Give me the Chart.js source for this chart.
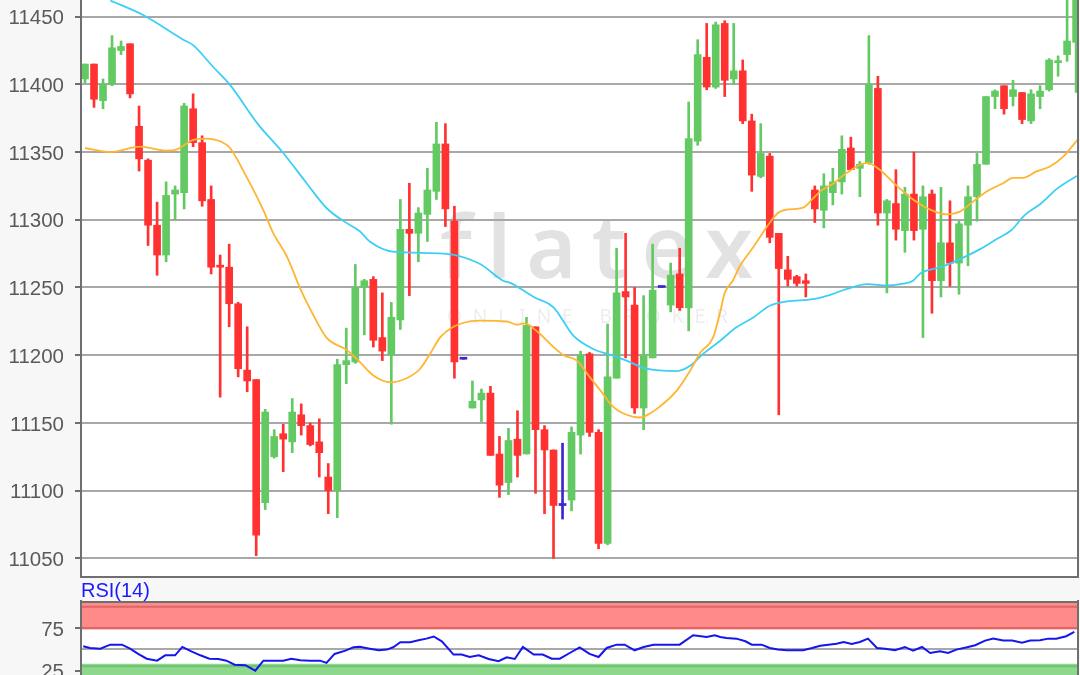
<!DOCTYPE html>
<html><head><meta charset="utf-8">
<script src="https://cdn.jsdelivr.net/npm/chart.js@4.4.1/dist/chart.umd.min.js"></script>
<style>
html,body{margin:0;padding:0;background:#f7f7f7;width:1080px;height:675px;overflow:hidden;}
#main{position:absolute;left:0;top:0;}
#rsi{position:absolute;left:0;top:578px;}
</style></head><body>
<canvas id="main" width="1080" height="579"></canvas>
<canvas id="rsi" width="1080" height="122"></canvas>
<script>
// ---------- data ----------
const opens = [11404,11415,11388,11400,11425,11430,11369,11344,11296,11274,
11319,11320,11382,11357,11315,11266,11265,11238,11189,11182,
11091,11125,11142,11136,11156,11148,11136,11110,11100,11193,
11195,11250,11256,11213,11200,11226,11293,11290,11304,11321,
11356,11299,11197,11161,11167,11172,11127,11106,11138,11127,
11221,11145,11130,11089,11093,11141,11201,11143,11061,11183,
11247,11237,11161,11198,11250,11237,11260,11235,11358,11420,
11398,11445,11404,11410,11373,11332,11347,11290,11263,11258,
11255,11322,11307,11320,11328,11353,11338,11342,11397,11305,
11312,11292,11319,11293,11319,11255,11283,11268,11296,11317,
11341,11391,11399,11391,11394,11373,11391,11396,11416,11422,11431];
const highs = [11415,11415,11404,11436,11432,11430,11384,11345,11313,11328,
11325,11386,11393,11362,11325,11274,11282,11239,11221,11182,
11160,11145,11149,11168,11164,11150,11153,11120,11197,11220,
11267,11256,11258,11246,11239,11315,11327,11309,11338,11372,
11371,11310,11197,11181,11175,11177,11140,11146,11159,11228,
11221,11148,11130,11135,11147,11203,11202,11145,11223,11279,
11290,11250,11244,11282,11250,11268,11279,11387,11433,11445,
11446,11447,11445,11418,11378,11371,11349,11290,11273,11259,
11260,11325,11334,11338,11362,11361,11343,11436,11406,11315,
11337,11324,11350,11325,11322,11324,11314,11299,11325,11349,
11391,11396,11399,11403,11394,11396,11399,11419,11421,11465,11475];
const lows = [11401,11383,11382,11399,11422,11390,11336,11281,11259,11269,
11300,11308,11354,11310,11260,11169,11221,11184,11173,11052,
11086,11124,11114,11128,11141,11133,11110,11083,11080,11179,
11194,11215,11206,11196,11149,11219,11244,11269,11284,11315,
11295,11183,11197,11161,11151,11126,11095,11097,11110,11127,
11098,11083,11050,11079,11085,11127,11140,11057,11060,11183,
11198,11157,11145,11198,11250,11232,11233,11218,11355,11396,
11397,11391,11400,11371,11321,11331,11283,11156,11251,11251,
11243,11298,11294,11311,11319,11337,11317,11341,11296,11246,
11285,11276,11285,11213,11231,11243,11251,11245,11266,11299,
11341,11382,11378,11384,11371,11371,11382,11395,11406,11417,11394];
const closes = [11415,11389,11400,11427,11428,11393,11345,11296,11274,11318,
11322,11384,11357,11314,11265,11265,11238,11190,11181,11067,
11158,11140,11138,11158,11148,11134,11128,11100,11193,11196,
11250,11255,11211,11203,11228,11293,11290,11305,11322,11356,
11308,11195,11197,11166,11172,11126,11104,11137,11126,11222,
11145,11130,11089,11089,11143,11200,11143,11061,11184,11246,
11243,11161,11200,11248,11250,11259,11235,11360,11422,11398,
11444,11403,11410,11373,11333,11349,11287,11264,11256,11253,
11253,11308,11325,11328,11352,11337,11341,11400,11305,11314,
11293,11319,11292,11317,11255,11283,11268,11297,11317,11341,
11391,11395,11382,11396,11374,11393,11395,11418,11417,11432,11470];

// fast moving average (orange): candle position, value
const maFastPos = [0,2.8,6.1,9.1,10.2,12,13.5,15,16.1,17.9,19.8,20.9,22.4,23.9,25,26.8,29,30.5,32,33.9,
35.7,37.2,38.3,39.4,40.9,42.7,43.8,46.8,47.9,48.8,50.1,52,53.1,54.6,56,57.2,58.6,60.1,61.6,62.7,
63.8,65.7,67.2,68.3,69.7,70.5,71,71.9,72.7,74.2,75.7,76.9,77.9,79.7,80.7,81.6,83.1,84.5,86.8,88.2,
90.1,91.9,93.8,95.6,97.1,98.6,100.1,101.9,103,104.1,105.6,107.1,108.6,109.9,110.3];
const maFast = [11353,11350,11354,11351,11352,11359,11360,11358,11353,11332,11307,11290,11273,11249,11234,11213,11204,11195,11185,11180,
11183,11190,11201,11213,11221,11225,11225.5,11225,11222.5,11223.5,11218,11206,11200,11196,11184,11174,11162,11156,11154,11157,
11162,11174,11189,11202,11213,11232,11246,11255,11266,11280,11295,11305,11307.5,11309,11315,11321,11327,11334.5,11342,11337,
11325,11315,11307.5,11304,11306,11313.6,11321,11327,11331,11331,11335.7,11339.4,11346.8,11357,11360];

// slow moving average (cyan)
const maSlowPos = [2.8,6.5,10.9,12,14.2,16.1,19.1,22,24.6,26.8,28.7,30.5,31.6,34.2,39.8,43.8,46.4,47.2,49.8,52,
54.2,56.4,58.6,60.1,62.3,65.7,67.2,68.6,70.5,72.3,74.2,76,77.9,80.8,82.7,84.5,86.8,89,90.5,91.9,
92.7,95.1,97.3,99.5,101.3,102.8,104.3,106.1,107.9,109.9,110.3];
const maSlow = [11462,11451,11433,11429,11413,11399.6,11371.4,11349.3,11327,11308.7,11299,11291.5,11284,11276.5,11275,11267.5,11255,11253.4,11243,11235.3,
11214.4,11204.6,11199.7,11196,11190,11188.2,11192.3,11201,11210.7,11220.6,11228,11236.5,11239.7,11241.4,11244.6,11248.8,11252.5,11251.5,11252.5,11255,
11260.4,11265.3,11271.5,11278.9,11286.2,11292.3,11303.4,11312,11323,11331.6,11333];

// RSI(14)
const rsiPos = [-0.2,0.55,1.7,2.8,4.1,5,5.9,6.85,8,8.9,10,10.8,11.8,12.8,13.8,14.8,15.7,16.6,17.8,18.9,
19.8,20.9,22,22.9,23.9,25,26.1,26.8,27.7,28.9,29.8,30.5,31.6,32.6,33.5,34.2,35,36.1,37,37.9,
38.7,39.6,40.2,40.9,41.8,42.7,43.7,44.8,45.9,46.8,47.7,48.6,49.8,50.8,51.8,52.7,53.8,54.9,56,57,
57.9,59,59.9,61,62,63.1,64,65,66,67.5,69,69.9,70.5,71.2,72.3,73.3,74,75.1,76,76.9,
77.9,78.8,79.7,80.7,81.6,82.5,83.4,84.2,85.1,86,86.9,87.9,88.8,89.9,91,91.9,92.9,93.8,94.9,95.8,
96.7,97.9,98.8,99.9,100.8,101.9,102.9,104,104.9,106,106.9,107.8,108.9,109.8];
const rsiValues = [53.5,51.5,50.7,55.4,55.4,50.7,44.5,38.9,36.6,42.9,42.9,52.7,47.6,42.9,38.9,38.6,36.6,31.9,31.2,24.8,
36.6,36.6,36.6,38.9,37,36.6,36.6,33.9,44.5,48.4,52.3,52.8,50.7,48.8,49.6,52.3,58.2,58.2,60.6,62.5,
65,59.4,52.3,43.7,43.7,40.9,42.9,38.6,35.9,40.5,38.6,52.7,43.7,43.7,38.9,38.9,45.6,52.3,44.5,40.9,
51.5,55.4,55.4,48.8,52.7,55.4,55.4,55.4,55.4,66.5,64.5,66.5,64.5,63.3,62.5,59.4,55.4,55.4,51.5,49.6,
48.8,48.8,48.8,51.5,54.2,55.4,56.6,58.6,56.2,58.6,62.5,51.5,50.7,48.8,52.7,48.4,52.7,45.6,47.6,45.6,
49.6,52.3,54.7,60.2,62.5,60.2,60.2,57.8,60.2,60.6,62.5,62.5,65.3,70.4];

const priceTicks = [11050,11100,11150,11200,11250,11300,11350,11400,11450];
const rsiTicks = [25,50,75];
const rsiOverbought = 75, rsiTop = 100, rsiOversold = 30;

// ---------- styling ----------
const GREEN = '#63c963', RED = '#ff3131', BLUE = '#3b26d4';
const FONT = "'Liberation Sans', Arial, sans-serif";
const X_MIN = -0.444, X_MAX = 110.21;

const candleColors = opens.map((o,i)=> closes[i] > o ? GREEN : (closes[i] < o ? RED : BLUE));
const bodies = opens.map((o,i)=>({x:i, y:[o, closes[i]]}));
const wicks = opens.map((o,i)=>({x:i, y:[lows[i], highs[i]]}));
const fastLine = maFastPos.map((x,k)=>({x, y:maFast[k]}));
const slowLine = maSlowPos.map((x,k)=>({x, y:maSlow[k]}));
const rsiLine = rsiPos.map((x,k)=>({x, y:rsiValues[k]}));

const fitY = (scale)=>{ scale.width = 81; scale.paddingTop = 0; scale.paddingBottom = 0; };

const areaPlugin = {
  id:'areaPlugin',
  beforeDraw(chart, args, opts){
    const {ctx, chartArea:a} = chart;
    ctx.save();
    ctx.fillStyle = '#ffffff';
    ctx.fillRect(a.left, a.top, a.right-a.left, a.bottom-a.top);
    if (opts.watermark){
      ctx.fillStyle = 'rgba(0,0,0,0.115)';
      ctx.font = "600 86px 'Noto Sans'";
      ctx.letterSpacing = '15px';
      ctx.textBaseline = 'alphabetic';
      ctx.fillText('flatex', 440, 278);
      ctx.fillStyle = 'rgba(0,0,0,0.075)';
      ctx.font = "400 19px 'Noto Sans'";
      ctx.letterSpacing = '11px';
      ctx.fillText('ONLINE BROKER', 447, 323);
    }
    ctx.restore();
  },
  afterDraw(chart, args, opts){
    const {ctx, chartArea:a} = chart;
    ctx.save();
    ctx.strokeStyle = '#6f6f6f'; ctx.lineWidth = 2;
    ctx.beginPath();
    (opts.sides||[]).forEach(s=>{
      if (s==='left'){ctx.moveTo(a.left, a.top-2); ctx.lineTo(a.left, a.bottom+1);}
      if (s==='right'){ctx.moveTo(a.right, a.top-2); ctx.lineTo(a.right, a.bottom+1);}
      if (s==='bottom'){ctx.moveTo(a.left-1, a.bottom); ctx.lineTo(a.right+1, a.bottom);}
      if (s==='top'){ctx.moveTo(a.left-1, a.top); ctx.lineTo(a.right+1, a.top);}
    });
    ctx.stroke();
    ctx.restore();
  }
};

const bandPlugin = {
  id:'bandPlugin',
  beforeDatasetsDraw(chart){
    const {ctx, chartArea:a, scales:{y}} = chart;
    if (!y || chart.canvas.id !== 'rsi') return;
    ctx.save();
    const yOB = y.getPixelForValue(rsiOverbought), yTop = y.getPixelForValue(rsiTop), yOS = y.getPixelForValue(rsiOversold);
    ctx.fillStyle = '#ff8a8a';
    ctx.fillRect(a.left, a.top, a.right-a.left, yOB + 1.5 - a.top);
    ctx.fillStyle = '#8ed88e';
    ctx.fillRect(a.left, yOS - 2.5, a.right-a.left, a.bottom - yOS + 2.5);
    ctx.lineWidth = 2;
    ctx.strokeStyle = '#e06666';
    ctx.beginPath();
    ctx.moveTo(a.left, yOB); ctx.lineTo(a.right, yOB);
    ctx.moveTo(a.left, yTop); ctx.lineTo(a.right, yTop);
    ctx.stroke();
    ctx.strokeStyle = '#6dc36d';
    ctx.beginPath();
    ctx.moveTo(a.left, yOS); ctx.lineTo(a.right, yOS);
    ctx.stroke();
    ctx.restore();
  }
};

Chart.defaults.font.family = FONT;

new Chart(document.getElementById('main'), {
  type:'bar',
  data:{ datasets:[
    {type:'line', data:fastLine, borderColor:'#ffb52f', borderWidth:1.8, pointRadius:0, cubicInterpolationMode:'monotone', order:0, clip:0},
    {type:'line', data:slowLine, borderColor:'#3ccff6', borderWidth:1.8, pointRadius:0, cubicInterpolationMode:'monotone', order:0, clip:0},
    {type:'bar', data:bodies, backgroundColor:candleColors, barThickness:7, grouped:false, minBarLength:2, order:1, clip:0},
    {type:'bar', data:wicks, backgroundColor:candleColors, barThickness:2, grouped:false, order:2, clip:0}
  ]},
  options:{
    responsive:false, animation:false, maintainAspectRatio:false,
    layout:{padding:{left:0, right:2, top:0, bottom:2}},
    plugins:{legend:{display:false}, tooltip:{enabled:false}, title:{display:false},
      areaPlugin:{watermark:true, sides:['left','bottom','right']}},
    scales:{
      x:{type:'linear', min:X_MIN, max:X_MAX, display:false, offset:false},
      y:{type:'linear', min:11036.2, max:11462.3, position:'left',
        afterFit:fitY,
        afterBuildTicks:(s)=>{ s.ticks = priceTicks.map(v=>({value:v})); },
        ticks:{font:{size:20.5, family:FONT}, color:'#5a5a5a', padding:11, labelOffset:2,
          callback:(v)=> String(v)},
        grid:{color:'#a8a8a8', lineWidth:2, tickLength:6, tickColor:'#6f6f6f', tickWidth:2},
        border:{display:false}
      }
    }
  },
  plugins:[areaPlugin]
});

new Chart(document.getElementById('rsi'), {
  type:'line',
  data:{ datasets:[
    {data:rsiLine, borderColor:'#1515ee', borderWidth:2, pointRadius:0, tension:0, clip:0}
  ]},
  options:{
    responsive:false, animation:false, maintainAspectRatio:false,
    layout:{padding:{left:0, right:2, top:0, bottom:0}},
    plugins:{legend:{display:false}, tooltip:{enabled:false},
      title:{display:true, text:'RSI(14)', align:'start', fullSize:false, color:'#1a1aff',
        font:{size:20, family:FONT, weight:'normal', lineHeight:1.05}, padding:{top:3, bottom:0}},
      areaPlugin:{watermark:false, sides:['left','top','right']}},
    scales:{
      x:{type:'linear', min:X_MIN, max:X_MAX, display:false, offset:false},
      y:{type:'linear', min:-9.7, max:105.6, position:'left',
        afterFit:fitY,
        afterBuildTicks:(s)=>{ s.ticks = rsiTicks.map(v=>({value:v})); },
        ticks:{font:{size:20.5, family:FONT}, color:'#5a5a5a', padding:11, labelOffset:2,
          callback:(v)=> v===50 ? '' : String(v)},
        grid:{color:(c)=> c.tick && c.tick.value===50 ? '#a8a8a8' : 'rgba(0,0,0,0)', lineWidth:2, tickLength:6,
          tickColor:(c)=> c.tick && c.tick.value===50 ? 'rgba(0,0,0,0)' : '#6f6f6f', tickWidth:2},
        border:{display:false}
      }
    }
  },
  plugins:[areaPlugin, bandPlugin]
});
</script>
</body></html>
